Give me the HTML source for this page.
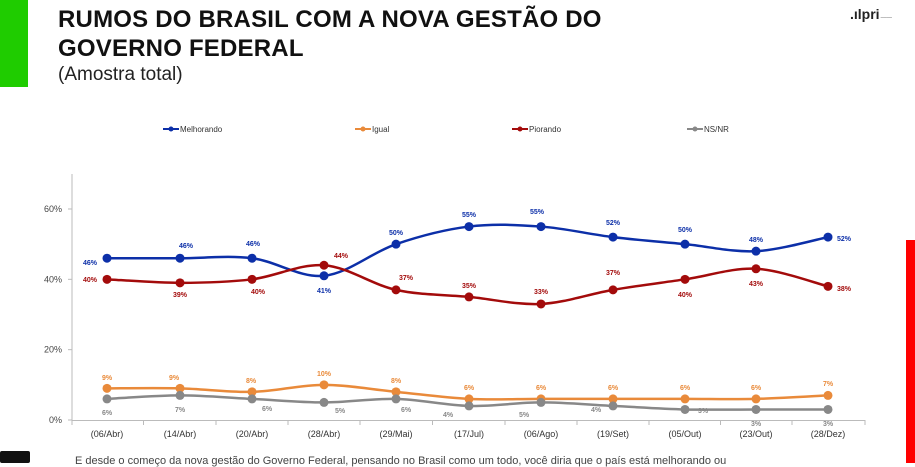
<!DOCTYPE html>
<html><head><meta charset="utf-8"><style>
body{margin:0;width:915px;height:463px;overflow:hidden;background:#fff;font-family:"Liberation Sans",sans-serif;position:relative}
.t{position:absolute;left:58px;font-weight:bold;font-size:24px;color:#111;letter-spacing:0.2px}
</style></head><body>
<div style="position:absolute;left:0;top:0;width:28px;height:87px;background:#1fcc00"></div>
<div class="t" style="top:6px">RUMOS DO BRASIL COM A NOVA GESTÃO DO</div>
<div class="t" style="top:35px">GOVERNO FEDERAL</div>
<div style="position:absolute;left:58px;top:64px;font-size:19px;color:#222">(Amostra total)</div>
<div style="position:absolute;left:850px;top:6px;font-weight:bold;font-size:14px;color:#222">.ılpri<span style="font-size:4px;font-weight:normal">&nbsp;────</span></div>
<div style="position:absolute;left:906px;top:240px;width:9px;height:223px;background:#ff0000"></div>
<div style="position:absolute;left:0;top:451px;width:30px;height:12px;background:#111;border-radius:2px"></div>
<div style="position:absolute;left:75px;top:455px;font-size:11px;color:#444;white-space:nowrap">E desde o começo da nova gestão do Governo Federal, pensando no Brasil como um todo, você diria que o país está melhorando ou</div>
<svg id="s" width="915" height="463" style="position:absolute;left:0;top:0" font-family="Liberation Sans, sans-serif"></svg>
<script>
const X=[107,180,252,324,396,469,541,613,685,756,828];
const y=v=>420-3.517*v;
const S=[
 ["#0c2fa8",[46,46,46,41,50,55,55,52,50,48,52],[[90,265],[186,248],[253,246],[324,293],[396,235],[469,217],[537,214],[613,225],[685,232],[756,242],[844,241]]],
 ["#e98a3a",[9,9,8,10,8,6,6,6,6,6,7],[[107,380],[174,380],[251,383],[324,376],[396,383],[469,390],[541,390],[613,390],[685,390],[756,390],[828,386]]],
 ["#a30b0b",[40,39,40,44,37,35,33,37,40,43,38],[[90,282],[180,297],[258,294],[341,258],[406,280],[469,288],[541,294],[613,275],[685,297],[756,286],[844,291]]],
 ["#888888",[6,7,6,5,6,4,5,4,3,3,3],[[107,415],[180,412],[267,411],[340,413],[406,412],[448,417],[524,417],[596,412],[703,413],[756,426],[828,426]]]
];
let h='';
// axes
h+='<line x1="72" y1="174" x2="72" y2="421" stroke="#bbb"/><line x1="72" y1="420.5" x2="865" y2="420.5" stroke="#bbb"/>';
[0,20,40,60].forEach(v=>{h+=`<text x="62" y="${y(v)+3}" font-size="9" fill="#444" text-anchor="end">${v}%</text><line x1="68" x2="72" y1="${y(v)}" y2="${y(v)}" stroke="#bbb"/>`});
const L=["(06/Abr)","(14/Abr)","(20/Abr)","(28/Abr)","(29/Mai)","(17/Jul)","(06/Ago)","(19/Set)","(05/Out)","(23/Out)","(28/Dez)"];
L.forEach((l,i)=>{h+=`<text x="${X[i]}" y="437" font-size="9" fill="#333" text-anchor="middle">${l}</text>`;});
for(let i=0;i<=11;i++){const xx=i==0?72:(i==11?865:(X[i-1]+X[i])/2);h+=`<line x1="${xx}" x2="${xx}" y1="420" y2="425" stroke="#bbb"/>`}
// legend
const lg=[["#0c2fa8","Melhorando",163],["#e98a3a","Igual",355],["#a30b0b","Piorando",512],["#888888","NS/NR",687]];
lg.forEach(([c,t,x])=>{h+=`<line x1="${x}" x2="${x+16}" y1="129" y2="129" stroke="${c}" stroke-width="2"/><circle cx="${x+8}" cy="129" r="2.5" fill="${c}"/><text x="${x+17}" y="132" font-size="8" fill="#333">${t}</text>`});
S.forEach(([c,d,lb])=>{
 const P=d.map((v,i)=>[X[i],y(v)]);
 let p=`M${P[0][0]},${P[0][1]}`;
 for(let i=0;i<P.length-1;i++){const p0=P[i-1]||P[i],p1=P[i],p2=P[i+1],p3=P[i+2]||P[i+1];
  p+=` C${p1[0]+(p2[0]-p0[0])/6},${p1[1]+(p2[1]-p0[1])/6} ${p2[0]-(p3[0]-p1[0])/6},${p2[1]-(p3[1]-p1[1])/6} ${p2[0]},${p2[1]}`;}
 h+=`<path d="${p}" fill="none" stroke="${c}" stroke-width="2.5"/>`;
 P.forEach(q=>h+=`<circle cx="${q[0]}" cy="${q[1]}" r="4.5" fill="${c}"/>`);
 lb.forEach((q,i)=>h+=`<text x="${q[0]}" y="${q[1]}" font-size="7" font-weight="bold" fill="${c}" text-anchor="middle">${d[i]}%</text>`);
});
document.getElementById('s').innerHTML=h;
</script>
</body></html>
